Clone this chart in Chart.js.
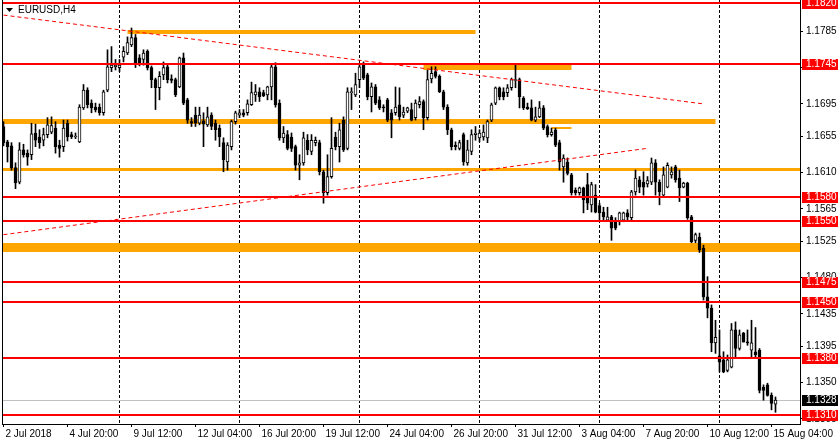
<!DOCTYPE html>
<html>
<head>
<meta charset="utf-8">
<script src="https://cdn.jsdelivr.net/npm/chart.js@4.4.1/dist/chart.umd.min.js"></script>
<style>
  html, body { margin: 0; padding: 0; background: #fff; }
  canvas { display: block; }
</style>
</head>
<body>
<canvas id="chart" width="840" height="445"></canvas>
<script>
// EURUSD H4, 2 Jul 2018 - 15 Aug 2018, one entry per bar
const opens = [
1.1667,1.1648,1.1643,1.1616,1.1598,1.1638,1.1634,1.1632,1.1659,1.1654,1.1650,1.1657,1.1660,1.1665,1.1644,1.1642,1.1671,1.1657,1.1654,1.1648,
1.1690,1.1712,1.1696,1.1691,1.1691,1.1684,1.1712,1.1740,1.1741,1.1740,1.1753,1.1758,1.1768,1.1777,1.1752,1.1750,1.1760,1.1740,1.1725,1.1715,
1.1731,1.1741,1.1726,1.1725,1.1716,1.1752,1.1700,1.1673,1.1681,1.1671,1.1674,1.1669,1.1681,1.1671,1.1665,1.1647,1.1623,1.1642,1.1673,1.1681,
1.1684,1.1684,1.1694,1.1706,1.1710,1.1709,1.1706,1.1716,1.1741,1.1696,1.1653,1.1657,1.1654,1.1642,1.1619,1.1622,1.1650,1.1636,1.1647,1.1647,
1.1611,1.1585,1.1605,1.1654,1.1642,1.1675,1.1640,1.1709,1.1706,1.1725,1.1743,1.1731,1.1704,1.1716,1.1700,1.1691,1.1700,1.1684,1.1684,1.1694,
1.1681,1.1686,1.1688,1.1678,1.1694,1.1698,1.1678,1.1726,1.1735,1.1729,1.1710,1.1691,1.1663,1.1644,1.1640,1.1657,1.1622,1.1636,1.1657,1.1653,
1.1654,1.1653,1.1675,1.1696,1.1715,1.1710,1.1709,1.1715,1.1724,1.1725,1.1702,1.1691,1.1690,1.1675,1.1679,1.1690,1.1667,1.1657,1.1663,1.1647,
1.1617,1.1623,1.1607,1.1588,1.1585,1.1591,1.1595,1.1570,1.1582,1.1569,1.1561,1.1551,1.1555,1.1549,1.1549,1.1551,1.1560,1.1554,1.1586,1.1601,
1.1598,1.1596,1.1598,1.1622,1.1598,1.1582,1.1592,1.1607,1.1617,1.1603,1.1592,1.1597,1.1555,1.1526,1.1530,1.1516,1.1456,1.1442,1.1399,1.1383,
1.1378,1.1365,1.1369,1.1415,1.1392,1.1411,1.1400,1.1390,1.1388,1.1390,1.1344,1.1347,1.1334,1.1323
];
const highs = [
1.1673,1.1650,1.1647,1.1622,1.1647,1.1645,1.1638,1.1671,1.1670,1.1663,1.1665,1.1678,1.1679,1.1673,1.1650,1.1675,1.1675,1.1660,1.1659,1.1694,
1.1719,1.1715,1.1700,1.1696,1.1695,1.1712,1.1762,1.1766,1.1750,1.1750,1.1766,1.1778,1.1789,1.1781,1.1756,1.1762,1.1762,1.1742,1.1727,1.1735,
1.1747,1.1743,1.1731,1.1727,1.1753,1.1758,1.1702,1.1678,1.1691,1.1691,1.1684,1.1691,1.1684,1.1675,1.1669,1.1653,1.1647,1.1675,1.1686,1.1688,
1.1688,1.1700,1.1722,1.1719,1.1715,1.1712,1.1717,1.1743,1.1746,1.1700,1.1667,1.1662,1.1659,1.1644,1.1632,1.1660,1.1657,1.1657,1.1654,1.1650,
1.1613,1.1632,1.1678,1.1660,1.1671,1.1679,1.1715,1.1715,1.1733,1.1743,1.1747,1.1733,1.1721,1.1719,1.1704,1.1694,1.1702,1.1688,1.1716,1.1715,
1.1691,1.1691,1.1696,1.1700,1.1704,1.1700,1.1737,1.1741,1.1741,1.1731,1.1712,1.1694,1.1665,1.1648,1.1650,1.1659,1.1650,1.1663,1.1667,1.1663,
1.1669,1.1675,1.1696,1.1716,1.1716,1.1715,1.1719,1.1727,1.1743,1.1727,1.1704,1.1696,1.1700,1.1691,1.1698,1.1693,1.1669,1.1665,1.1665,1.1650,
1.1632,1.1628,1.1609,1.1591,1.1592,1.1592,1.1609,1.1598,1.1595,1.1572,1.1567,1.1567,1.1557,1.1554,1.1561,1.1561,1.1564,1.1588,1.1613,1.1605,
1.1611,1.1605,1.1628,1.1626,1.1601,1.1617,1.1622,1.1617,1.1619,1.1613,1.1598,1.1598,1.1557,1.1535,1.1535,1.1520,1.1481,1.1446,1.1427,1.1415,
1.1388,1.1384,1.1423,1.1425,1.1415,1.1412,1.1415,1.1427,1.1418,1.1392,1.1347,1.1349,1.1337,1.1332
];
const lows = [
1.1643,1.1623,1.1613,1.1590,1.1596,1.1629,1.1619,1.1626,1.1642,1.1640,1.1643,1.1653,1.1658,1.1634,1.1629,1.1636,1.1649,1.1652,1.1652,1.1647,
1.1688,1.1690,1.1684,1.1685,1.1681,1.1681,1.1710,1.1735,1.1737,1.1735,1.1747,1.1756,1.1766,1.1740,1.1742,1.1743,1.1737,1.1715,1.1688,1.1700,
1.1725,1.1721,1.1721,1.1704,1.1715,1.1694,1.1671,1.1667,1.1667,1.1669,1.1642,1.1667,1.1663,1.1650,1.1642,1.1611,1.1613,1.1638,1.1670,1.1678,
1.1679,1.1681,1.1693,1.1698,1.1698,1.1704,1.1700,1.1700,1.1691,1.1650,1.1647,1.1638,1.1636,1.1613,1.1601,1.1619,1.1632,1.1632,1.1643,1.1607,
1.1572,1.1582,1.1603,1.1638,1.1623,1.1636,1.1638,1.1688,1.1704,1.1715,1.1725,1.1700,1.1685,1.1694,1.1688,1.1685,1.1673,1.1653,1.1681,1.1675,
1.1678,1.1684,1.1674,1.1675,1.1690,1.1663,1.1675,1.1721,1.1727,1.1709,1.1688,1.1657,1.1638,1.1638,1.1638,1.1619,1.1619,1.1632,1.1650,1.1648,
1.1650,1.1647,1.1673,1.1694,1.1700,1.1700,1.1704,1.1712,1.1715,1.1690,1.1688,1.1688,1.1674,1.1673,1.1678,1.1663,1.1654,1.1655,1.1642,1.1613,
1.1598,1.1607,1.1582,1.1582,1.1582,1.1560,1.1564,1.1561,1.1560,1.1551,1.1551,1.1550,1.1526,1.1539,1.1545,1.1549,1.1551,1.1551,1.1582,1.1585,
1.1582,1.1592,1.1595,1.1582,1.1570,1.1580,1.1591,1.1603,1.1598,1.1574,1.1591,1.1552,1.1523,1.1523,1.1511,1.1452,1.1430,1.1388,1.1386,1.1363,
1.1362,1.1363,1.1368,1.1380,1.1390,1.1400,1.1396,1.1381,1.1381,1.1337,1.1328,1.1333,1.1316,1.1313
];
const closes = [
1.1647,1.1642,1.1616,1.1597,1.1638,1.1632,1.1629,1.1658,1.1650,1.1647,1.1657,1.1669,1.1668,1.1642,1.1640,1.1665,1.1654,1.1654,1.1655,1.1691,
1.1712,1.1694,1.1690,1.1688,1.1684,1.1710,1.1741,1.1743,1.1743,1.1743,1.1760,1.1771,1.1777,1.1746,1.1746,1.1758,1.1740,1.1725,1.1715,1.1729,
1.1740,1.1725,1.1724,1.1706,1.1752,1.1696,1.1675,1.1671,1.1671,1.1681,1.1670,1.1679,1.1667,1.1663,1.1654,1.1626,1.1644,1.1673,1.1684,1.1684,
1.1681,1.1695,1.1709,1.1710,1.1704,1.1705,1.1716,1.1741,1.1694,1.1653,1.1659,1.1640,1.1640,1.1619,1.1622,1.1653,1.1638,1.1650,1.1650,1.1611,
1.1585,1.1605,1.1640,1.1642,1.1663,1.1638,1.1710,1.1710,1.1719,1.1741,1.1727,1.1704,1.1716,1.1696,1.1690,1.1690,1.1675,1.1675,1.1691,1.1679,
1.1685,1.1690,1.1675,1.1696,1.1698,1.1678,1.1725,1.1733,1.1729,1.1710,1.1691,1.1663,1.1642,1.1642,1.1647,1.1623,1.1638,1.1657,1.1659,1.1659,
1.1660,1.1673,1.1694,1.1715,1.1704,1.1704,1.1715,1.1725,1.1725,1.1704,1.1690,1.1689,1.1675,1.1679,1.1690,1.1665,1.1657,1.1660,1.1644,1.1623,
1.1628,1.1609,1.1585,1.1585,1.1591,1.1576,1.1572,1.1595,1.1561,1.1560,1.1555,1.1555,1.1541,1.1541,1.1560,1.1560,1.1555,1.1586,1.1603,1.1592,
1.1592,1.1600,1.1622,1.1598,1.1586,1.1607,1.1619,1.1611,1.1601,1.1591,1.1597,1.1554,1.1524,1.1533,1.1514,1.1456,1.1442,1.1399,1.1406,1.1375,
1.1363,1.1378,1.1415,1.1392,1.1409,1.1400,1.1399,1.1399,1.1384,1.1340,1.1340,1.1334,1.1324,1.1328
];

// time axis
const tickBars = [0, 16, 32, 48, 64, 80, 96, 112, 128, 144, 160, 176, 192];
const tickLabels = ['2 Jul 2018', '4 Jul 20:00', '9 Jul 12:00', '12 Jul 04:00', '16 Jul 20:00', '19 Jul 12:00',
  '24 Jul 04:00', '26 Jul 20:00', '31 Jul 12:00', '3 Aug 04:00', '7 Aug 20:00', '10 Aug 12:00', '15 Aug 04:00'];
const weekStarts = [29, 59, 89, 119, 149, 179];

// price axis
const priceTicks = [1.1785, 1.1740, 1.1695, 1.1655, 1.1610, 1.1565, 1.1525, 1.1480, 1.1435, 1.1395, 1.1350, 1.1305];
const levels = [1.1820, 1.1745, 1.1580, 1.1550, 1.1475, 1.1450, 1.1380, 1.1310];
const lastPrice = 1.1328;

// orange zones: bar from / bar to / upper / lower price
const zoneFrom = [31, 105, -1, 137, -1, -1];
const zoneTo = [118, 142, 178, 142, 200, 200];
const zoneTop = [1.1787, 1.1743, 1.1676, 1.1667, 1.1616, 1.1523];
const zoneBottom = [1.1781, 1.1737, 1.1670, 1.1664, 1.1612, 1.1512];

// trend lines
const upperTrendBars = [0, 175];
const upperTrendPrices = [1.1805, 1.1695];
const lowerTrendBars = [0, 161];
const lowerTrendPrices = [1.1533, 1.1640];

const FONT = '"Liberation Sans", Arial, sans-serif';
Chart.defaults.font.family = FONT;
Chart.defaults.font.size = 10;
Chart.defaults.color = '#000';

const idx = opens.map((o, i) => i);
const wicks = idx.map(i => ({x: i, y: [lows[i], highs[i]]}));
const bodies = idx.map(i => ({x: i, y: [Math.min(opens[i], closes[i]), Math.max(opens[i], closes[i])]}));
const bodyColors = idx.map(i => closes[i] >= opens[i] ? '#ffffff' : '#000000');

const overlay = {
  id: 'overlay',
  beforeDatasetsDraw(chart) {
    const {ctx, chartArea: a, scales: {x, y}} = chart;
    ctx.save();
    ctx.beginPath();
    ctx.rect(a.left, a.top, a.right - a.left, a.bottom - a.top);
    ctx.clip();
    // weekly separators
    ctx.strokeStyle = '#000';
    ctx.lineWidth = 1;
    ctx.setLineDash([3, 2]);
    weekStarts.forEach(b => {
      const px = Math.round(x.getPixelForValue(b) - 0.5) + 0.5;
      ctx.beginPath();
      ctx.moveTo(px, a.top);
      ctx.lineTo(px, a.bottom);
      ctx.stroke();
    });
    ctx.setLineDash([]);
    // zones
    ctx.fillStyle = '#ffa500';
    zoneFrom.forEach((f, k) => {
      const x0 = x.getPixelForValue(f), x1 = x.getPixelForValue(zoneTo[k]);
      const y0 = Math.round(y.getPixelForValue(zoneTop[k]));
      const y1 = Math.round(y.getPixelForValue(zoneBottom[k]));
      ctx.fillRect(x0, y0, x1 - x0, y1 - y0);
    });
    // last price line
    const py = Math.round(y.getPixelForValue(lastPrice)) + 0.5;
    ctx.strokeStyle = '#c0c0c0';
    ctx.beginPath();
    ctx.moveTo(a.left, py);
    ctx.lineTo(a.right, py);
    ctx.stroke();
    ctx.restore();
  },
  afterDatasetsDraw(chart) {
    const {ctx, chartArea: a, scales: {y}} = chart;
    ctx.save();
    ctx.fillStyle = '#ff0000';
    levels.forEach(v => {
      const py = Math.round(y.getPixelForValue(v));
      ctx.fillRect(a.left, py - 1, a.right - a.left, 2);
    });
    ctx.restore();
  },
  afterDraw(chart) {
    const {ctx, chartArea: a, scales: {y}} = chart;
    ctx.save();
    // left frame
    ctx.strokeStyle = '#000';
    ctx.lineWidth = 1;
    ctx.beginPath();
    ctx.moveTo(a.left + 0.5, a.top);
    ctx.lineTo(a.left + 0.5, a.bottom);
    ctx.stroke();
    // price boxes
    ctx.font = '10px ' + FONT;
    ctx.textBaseline = 'middle';
    ctx.textAlign = 'left';
    const box = (v, bg) => {
      const py = Math.round(y.getPixelForValue(v));
      ctx.fillStyle = bg;
      ctx.fillRect(a.right + 2, py - 5, 36, 11);
      ctx.fillStyle = '#fff';
      ctx.fillText(v.toFixed(4), a.right + 6, py + 0.5);
    };
    levels.forEach(v => box(v, '#ff0000'));
    box(lastPrice, '#000000');
    // symbol caption
    ctx.fillStyle = '#000';
    ctx.beginPath();
    ctx.moveTo(6, 8);
    ctx.lineTo(13, 8);
    ctx.lineTo(9.5, 12);
    ctx.closePath();
    ctx.fill();
    ctx.fillText('EURUSD,H4', 18, 10.5);
    ctx.restore();
  }
};

new Chart(document.getElementById('chart'), {
  type: 'bar',
  data: {
    datasets: [
      {
        type: 'line',
        data: upperTrendBars.map((b, k) => ({x: b, y: upperTrendPrices[k]})),
        borderColor: '#ff0000', borderWidth: 1, borderDash: [4, 3],
        pointRadius: 0, fill: false, order: 0
      },
      {
        type: 'line',
        data: lowerTrendBars.map((b, k) => ({x: b, y: lowerTrendPrices[k]})),
        borderColor: '#ff0000', borderWidth: 1, borderDash: [4, 3],
        pointRadius: 0, fill: false, order: 0
      },
      {
        data: bodies,
        backgroundColor: bodyColors,
        borderColor: '#000', borderWidth: 1, borderSkipped: false,
        barThickness: 3, minBarLength: 1, grouped: false, order: 1
      },
      {
        data: wicks,
        backgroundColor: '#000', borderWidth: 0,
        barThickness: 1, grouped: false, order: 2
      }
    ]
  },
  options: {
    responsive: false,
    devicePixelRatio: 1,
    animation: false,
    events: [],
    layout: { padding: { left: 2, top: 0, right: 0, bottom: 0 } },
    plugins: { legend: { display: false }, tooltip: { enabled: false } },
    scales: {
      x: {
        type: 'linear', min: -0.375, max: 199.125, offset: false,
        afterBuildTicks: s => { s.ticks = tickBars.map(v => ({value: v})); },
        afterFit: s => { s.height = 21; s.paddingLeft = 0; s.paddingRight = 0; },
        ticks: {
          callback: v => tickLabels[tickBars.indexOf(v)],
          align: 'start', maxRotation: 0, minRotation: 0, autoSkip: false,
          padding: 1, labelOffset: 2
        },
        grid: { drawOnChartArea: false, tickLength: 3, color: '#000', offset: false },
        border: { color: '#000' }
      },
      y: {
        position: 'right', min: 1.12985, max: 1.18237,
        afterBuildTicks: s => { s.ticks = priceTicks.map(v => ({value: v})); },
        afterFit: s => { s.width = 40; s.paddingTop = 0; s.paddingBottom = 0; },
        ticks: { callback: v => v.toFixed(4), padding: 3, autoSkip: false },
        grid: { drawOnChartArea: false, tickLength: 3, color: '#000' },
        border: { color: '#000' }
      }
    }
  },
  plugins: [overlay]
});
</script>
</body>
</html>
